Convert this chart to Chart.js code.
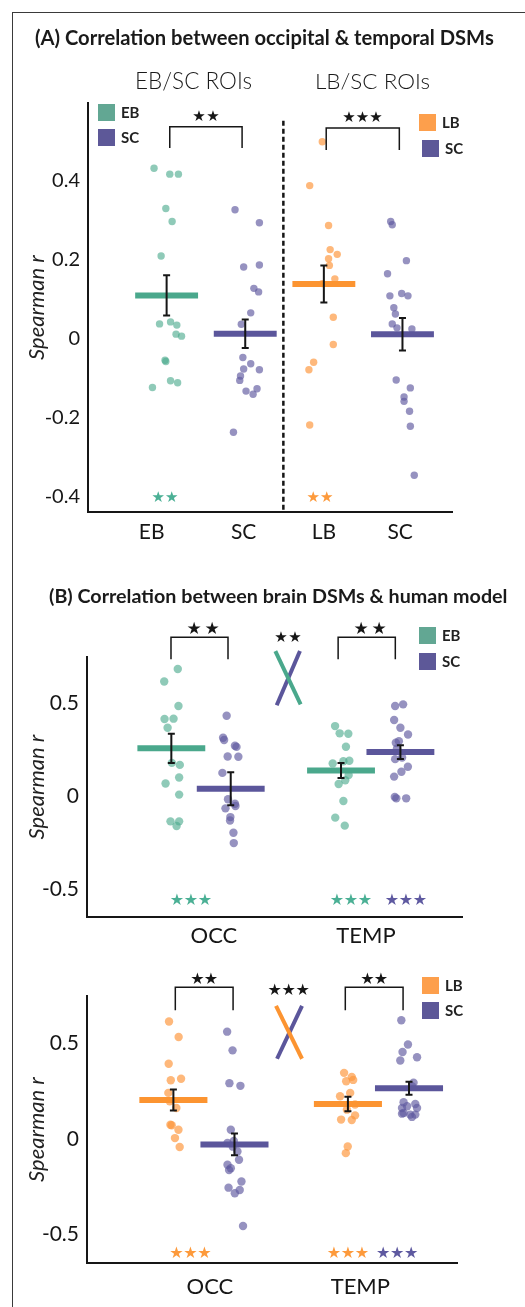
<!DOCTYPE html>
<html>
<head>
<meta charset="utf-8">
<script src="https://cdn.jsdelivr.net/npm/chart.js@4.4.0/dist/chart.umd.min.js"></script>
<style>
  html, body { margin: 0; padding: 0; background: #fff; overflow: hidden; }
  body { width: 525px; height: 1307px; position: relative; }
  #frame { position: absolute; left: 12px; top: 12px; width: 700px; height: 1500px;
           border-left: 1.5px solid #3a3a3a; border-top: 1.5px solid #3a3a3a; }
  canvas { position: absolute; left: 0; }
</style>
</head>
<body>
<div id="frame"></div>
<canvas id="panelA" width="525" height="560" style="top:0px"></canvas>
<canvas id="panelB1" width="525" height="400" style="top:560px"></canvas>
<canvas id="panelB2" width="525" height="347" style="top:960px"></canvas>
<script>
// ---- panel A: occipital vs temporal DSMs ----
const aLabels = ['EB', 'SC', 'LB', 'SC'];
const aLabelX = [0.81, 1.98, 3.0, 3.97];
const aTicksY = [-0.4, -0.2, 0, 0.2, 0.4];
const aEB = [0.43, 0.415, 0.415, 0.328, 0.295, 0.208, 0.036, 0.041, 0.033, 0.01, 0.005, -0.056, -0.059, -0.108, -0.113, -0.125];
const aEBJit = [-0.16, 0.04, 0.15, -0.01, 0.07, -0.07, -0.09, 0.05, 0.13, 0.12, 0.19, -0.02, -0.01, 0.05, 0.14, -0.18];
const aSC1 = [0.325, 0.292, 0.18, 0.185, 0.126, 0.117, 0.064, 0.035, -0.049, -0.065, -0.078, -0.08, -0.096, -0.107, -0.134, -0.128, -0.142, -0.238];
const aSC1Jit = [-0.13, 0.18, -0.02, 0.18, 0.11, 0.17, 0.07, -0.05, -0.03, 0.07, -0.02, 0.18, -0.06, -0.07, 0.01, 0.15, 0.10, -0.15];
const aLB = [0.497, 0.386, 0.285, 0.224, 0.212, 0.201, 0.184, 0.15, 0.138, 0.053, -0.016, -0.061, -0.08, -0.22];
const aLBJit = [-0.02, -0.18, 0.06, 0.08, 0.17, 0.06, 0.07, 0.14, -0.02, 0.12, 0.12, -0.13, -0.19, -0.18];
const aSC2 = [0.295, 0.287, 0.196, 0.163, 0.107, 0.113, 0.107, 0.077, 0.061, 0.036, 0.026, 0.023, -0.106, -0.126, -0.149, -0.16, -0.185, -0.223, -0.347];
const aSC2Jit = [-0.15, -0.13, 0.05, -0.19, -0.16, -0.01, 0.07, -0.11, -0.09, -0.13, -0.07, 0.12, -0.08, 0.10, 0.02, 0.02, 0.09, 0.10, 0.15];
const aMeans = [0.108, 0.011, 0.137, 0.010];
const aSem = [0.051, 0.036, 0.047, 0.041];

// ---- panel B top: brain DSMs vs human model (EB / SC) ----
const bLabels = ['OCC', 'TEMP'];
const bLabelX = [1.076, 1.972];
const bTicksY = [-0.5, 0, 0.5];
const bEBocc = [0.685, 0.618, 0.486, 0.416, 0.418, 0.369, 0.18, 0.169, 0.101, 0.069, 0.009, -0.135, -0.135, -0.16];
const bEBoccJit = [0.038, -0.042, 0.042, -0.04, 0.013, -0.022, 0.003, 0.05, 0.046, -0.034, 0.046, -0.005, 0.046, 0.031];
const bSCocc = [0.434, 0.315, 0.303, 0.272, 0.266, 0.214, 0.213, 0.126, -0.016, -0.04, -0.052, -0.065, -0.112, -0.13, -0.196, -0.252];
const bSCoccJit = [-0.024, -0.045, -0.039, 0.025, 0.034, -0.018, 0.045, -0.049, -0.016, 0.025, 0.028, -0.031, -0.002, -0.004, 0.016, 0.018];
const bEBtemp = [0.378, 0.339, 0.337, 0.267, 0.177, 0.189, 0.191, 0.114, 0.086, 0.066, -0.025, -0.115, -0.158];
const bEBtempJit = [-0.035, -0.008, 0.043, 0.029, -0.049, 0.014, 0.049, 0.045, 0.025, -0.014, 0.014, -0.034, 0.022];
const bSCtemp = [0.486, 0.495, 0.411, 0.369, 0.333, 0.288, 0.297, 0.258, 0.209, 0.2, 0.159, 0.132, 0.106, -0.004, -0.011, -0.011];
const bSCtempJit = [-0.031, 0.016, -0.037, 0, 0.045, -0.027, -0.009, -0.02, 0.01, -0.031, 0.044, 0.006, -0.037, -0.033, -0.024, 0.034];
const bMeans = [0.258, 0.041, 0.139, 0.238];
const bSem = [0.079, 0.089, 0.04, 0.037];

// ---- panel B bottom: LB / SC ----
const cLabelX = [1.034, 1.896];
const cLBocc = [0.616, 0.535, 0.395, 0.308, 0.316, 0.242, 0.198, 0.163, 0.075, 0.072, 0.049, 0.005, -0.042];
const cLBoccJit = [-0.025, 0.03, -0.027, -0.015, 0.044, -0.029, -0.021, 0.017, -0.017, -0.01, 0.029, 0.009, 0.036];
const cSCocc = [0.563, 0.465, 0.293, 0.279, 0.049, -0.01, -0.021, -0.04, -0.065, -0.109, -0.135, -0.153, -0.162, -0.223, -0.255, -0.267, -0.284, -0.456];
const cSCoccJit = [-0.042, -0.011, -0.029, 0.034, -0.021, -0.004, -0.04, -0.01, 0.017, 0.026, -0.04, -0.021, -0.031, 0.04, -0.034, 0.03, 0.002, 0.049];
const cLBtemp = [0.347, 0.326, 0.31, 0.303, 0.242, 0.224, 0.181, 0.154, 0.124, 0.102, 0.10, -0.039, -0.074];
const cLBtempJit = [-0.022, 0.022, 0.03, -0.01, 0.013, -0.045, 0.041, -0.006, 0.041, -0.039, 0.022, -0.001, -0.012];
const cSCtemp = [0.623, 0.496, 0.456, 0.429, 0.412, 0.295, 0.277, 0.193, 0.184, 0.172, 0.163, 0.163, 0.137, 0.133, 0.128, 0.128, 0.116];
const cSCtempJit = [-0.044, -0.006, -0.037, 0.046, -0.05, 0.026, 0.017, -0.031, 0.036, -0.011, -0.04, 0.046, -0.031, -0.04, 0.007, 0.036, 0.017];
const cMeans = [0.205, -0.028, 0.184, 0.266];
const cSem = [0.055, 0.057, 0.038, 0.034];

// colours
const TEAL = '#4aa88c', PURPLE = '#5b569b', ORANGE = '#fc9431';
const TEAL_PT = 'rgba(74,170,140,0.62)', PURPLE_PT = 'rgba(95,90,160,0.66)', ORANGE_PT = 'rgba(253,150,60,0.68)';
const TEAL_KEY = '#62a793', PURPLE_KEY = '#5d5898', ORANGE_KEY = '#fd9f4c';
const TEAL_STAR = '#4bb095', PURPLE_STAR = '#5e59a0', ORANGE_STAR = '#fd9a3c';
const INK = '#161616';
const OFF = 0.175; // half distance between the two groups in panel B

function pts(vals, jit, gx) {
  return vals.map((v, i) => ({ x: gx + jit[i], y: v }));
}
function ds(vals, jit, gx, color, r) {
  return { data: pts(vals, jit, gx), backgroundColor: color, pointRadius: r, pointBorderWidth: 0, pointHoverRadius: r };
}

function fitSize(ctx, text, font, width) {
  ctx.font = font.replace('{s}', '100');
  return 100 * width / ctx.measureText(text).width;
}

function drawStars(ctx, s, px, py) {
  ctx.fillStyle = s.color || INK;
  ctx.font = s.size + 'px "DejaVu Sans"';
  ctx.textAlign = 'center';
  ctx.textBaseline = 'middle';
  const cx = px(s.x), cy = py(s.y);
  for (let i = 0; i < s.n; i++) {
    ctx.fillText('\u2605', cx + (i - (s.n - 1) / 2) * s.gap, cy);
  }
}

// draws means, error bars, brackets, stars, keys and titles
function figurePlugin(spec) {
  return {
    id: 'figure',
    afterDatasetsDraw(chart) {
      const ctx = chart.ctx;
      const xs = chart.scales.x, ys = chart.scales.y;
      const px = v => xs.getPixelForValue(v), py = v => ys.getPixelForValue(v);
      ctx.save();

      if (spec.dashed) {
        ctx.strokeStyle = INK; ctx.lineWidth = 2.5; ctx.setLineDash([5, 3]);
        ctx.beginPath();
        ctx.moveTo(px(spec.dashed.x), py(spec.dashed.yTop));
        ctx.lineTo(px(spec.dashed.x), chart.chartArea.bottom);
        ctx.stroke();
        ctx.setLineDash([]);
      }

      spec.means.forEach(m => {
        ctx.strokeStyle = m.color; ctx.lineWidth = 6; ctx.lineCap = 'butt';
        ctx.beginPath();
        ctx.moveTo(px(m.x - spec.halfBar), py(m.mean));
        ctx.lineTo(px(m.x + spec.halfBar), py(m.mean));
        ctx.stroke();
        const cx = px(m.x), y1 = py(m.mean + m.sem), y2 = py(m.mean - m.sem);
        ctx.strokeStyle = INK; ctx.lineWidth = 2;
        ctx.beginPath();
        ctx.moveTo(cx, y1); ctx.lineTo(cx, y2);
        ctx.moveTo(cx - 3.5, y1); ctx.lineTo(cx + 3.5, y1);
        ctx.moveTo(cx - 3.5, y2); ctx.lineTo(cx + 3.5, y2);
        ctx.stroke();
      });

      ctx.strokeStyle = INK; ctx.lineWidth = 1.5;
      spec.brackets.forEach(b => {
        ctx.beginPath();
        ctx.moveTo(px(b.x1), py(b.yLeg));
        ctx.lineTo(px(b.x1), py(b.yTop));
        ctx.lineTo(px(b.x2), py(b.yTop));
        ctx.lineTo(px(b.x2), py(b.yLeg));
        ctx.stroke();
      });

      (spec.crosses || []).forEach(c => {
        ctx.strokeStyle = c.color; ctx.lineWidth = 4;
        ctx.beginPath();
        ctx.moveTo(px(c.x1), py(c.y1));
        ctx.lineTo(px(c.x2), py(c.y2));
        ctx.stroke();
      });

      spec.stars.forEach(s => drawStars(ctx, s, px, py));

      spec.keys.forEach(k => {
        ctx.fillStyle = k.color;
        ctx.fillRect(k.x, k.y, 17, 17);
        ctx.fillStyle = '#222';
        ctx.font = 'bold 15px Lato';
        ctx.textAlign = 'left'; ctx.textBaseline = 'middle';
        ctx.fillText(k.label, k.x + 23, k.y + 9);
      });

      spec.texts.forEach(t => {
        const size = fitSize(ctx, t.text, t.font, t.width);
        ctx.font = t.font.replace('{s}', size.toFixed(2));
        ctx.fillStyle = '#1a1a1a';
        ctx.textAlign = t.align; ctx.textBaseline = 'middle';
        ctx.fillText(t.text, t.x, t.y);
      });
      ctx.restore();
    }
  };
}

function makeChart(id, spec) {
  return new Chart(document.getElementById(id), {
    type: 'scatter',
    data: { datasets: spec.datasets },
    options: {
      responsive: false,
      animation: false,
      devicePixelRatio: 1,
      layout: { padding: spec.padding },
      plugins: { legend: { display: false }, tooltip: { enabled: false } },
      scales: {
        x: {
          type: 'linear', min: spec.xMin, max: spec.xMax,
          grid: { display: false, drawTicks: false },
          border: { display: true, color: INK, width: 2 },
          ticks: {
            autoSkip: false, maxRotation: 0, padding: spec.xPad, color: INK,
            font: { family: 'Lato', size: spec.xTickSize },
            callback: (v, i) => spec.xLabels[i]
          },
          afterBuildTicks: s => { s.ticks = spec.xTicks.map(v => ({ value: v })); },
          afterFit: s => { s.height = spec.xHeight; }
        },
        y: {
          type: 'linear', min: spec.yMin, max: spec.yMax,
          grid: { display: false, drawTicks: false },
          border: { display: true, color: INK, width: 2 },
          ticks: {
            autoSkip: false, padding: 8, color: INK,
            font: { family: 'Lato', size: spec.tickSize },
            callback: v => (v === 0 ? '0' : String(v))
          },
          afterBuildTicks: s => { s.ticks = spec.yTicks.map(v => ({ value: v })); },
          afterFit: s => { s.width = spec.yWidth; },
          title: {
            display: true, text: 'Spearman r', color: '#222',
            font: { family: 'Lato', style: 'italic', size: 22 },
            padding: { top: 24, bottom: 0 }
          }
        }
      }
    },
    plugins: [figurePlugin(spec)]
  });
}

// panel A
makeChart('panelA', {
  datasets: [
    ds(aEB, aEBJit, 1, TEAL_PT, 3.7),
    ds(aSC1, aSC1Jit, 2, PURPLE_PT, 3.7),
    ds(aLB, aLBJit, 3, ORANGE_PT, 3.7),
    ds(aSC2, aSC2Jit, 4, PURPLE_PT, 3.7)
  ],
  padding: { left: 0, top: 103, right: 73, bottom: 0 },
  xMin: 0, xMax: 4.63, yMin: -0.44, yMax: 0.595,
  xTicks: aLabelX, xLabels: aLabels, yTicks: aTicksY,
  xHeight: 48, yWidth: 88, xPad: 8, tickSize: 20, xTickSize: 21,
  halfBar: 0.4,
  means: [
    { x: 1, mean: aMeans[0], sem: aSem[0], color: TEAL },
    { x: 2, mean: aMeans[1], sem: aSem[1], color: PURPLE },
    { x: 3, mean: aMeans[2], sem: aSem[2], color: ORANGE },
    { x: 4, mean: aMeans[3], sem: aSem[3], color: PURPLE }
  ],
  dashed: { x: 2.485, yTop: 0.55 },
  brackets: [
    { x1: 1.04, x2: 1.96, yTop: 0.535, yLeg: 0.481 },
    { x1: 3.03, x2: 3.96, yTop: 0.532, yLeg: 0.476 }
  ],
  stars: [
    { x: 1.5, y: 0.56, n: 2, size: 15, gap: 14 },
    { x: 3.49, y: 0.558, n: 3, size: 15, gap: 13.5 },
    { x: 0.98, y: -0.406, n: 2, size: 15, gap: 13.5, color: TEAL_STAR },
    { x: 2.95, y: -0.405, n: 2, size: 15, gap: 13.5, color: ORANGE_STAR }
  ],
  keys: [
    { x: 98, y: 104, color: TEAL_KEY, label: 'EB' },
    { x: 98, y: 129, color: PURPLE_KEY, label: 'SC' },
    { x: 419, y: 114, color: ORANGE_KEY, label: 'LB' },
    { x: 422, y: 140, color: PURPLE_KEY, label: 'SC' }
  ],
  texts: [
    { text: '(A) Correlation between occipital & temporal DSMs', x: 35, y: 38, align: 'left', width: 459, font: 'bold {s}px Lato' },
    { text: 'EB/SC ROIs', x: 193.5, y: 82, align: 'center', width: 117, font: '300 {s}px Lato' },
    { text: 'LB/SC ROIs', x: 372.5, y: 82, align: 'center', width: 115, font: '300 {s}px Lato' }
  ]
});

// panel B, EB vs SC
makeChart('panelB1', {
  datasets: [
    ds(bEBocc, bEBoccJit, 1 - OFF, TEAL_PT, 4.2),
    ds(bSCocc, bSCoccJit, 1 + OFF, PURPLE_PT, 4.2),
    ds(bEBtemp, bEBtempJit, 2 - OFF, TEAL_PT, 4.2),
    ds(bSCtemp, bSCtempJit, 2 + OFF, PURPLE_PT, 4.2)
  ],
  padding: { left: 0, top: 97, right: 63, bottom: 0 },
  xMin: 0.328, xMax: 2.538, yMin: -0.65, yMax: 0.75,
  xTicks: bLabelX, xLabels: bLabels, yTicks: bTicksY,
  xHeight: 43, yWidth: 87, xPad: 6, tickSize: 21, xTickSize: 22,
  halfBar: 0.2,
  means: [
    { x: 1 - OFF, mean: bMeans[0], sem: bSem[0], color: TEAL },
    { x: 1 + OFF, mean: bMeans[1], sem: bSem[1], color: PURPLE },
    { x: 2 - OFF, mean: bMeans[2], sem: bSem[2], color: TEAL },
    { x: 2 + OFF, mean: bMeans[3], sem: bSem[3], color: PURPLE }
  ],
  brackets: [
    { x1: 0.823, x2: 1.159, yTop: 0.856, yLeg: 0.738 },
    { x1: 1.808, x2: 2.145, yTop: 0.856, yLeg: 0.738 }
  ],
  crosses: [
    { x1: 1.583, y1: 0.782, x2: 1.446, y2: 0.49, color: PURPLE },
    { x1: 1.438, y1: 0.782, x2: 1.587, y2: 0.495, color: TEAL }
  ],
  stars: [
    { x: 1.012, y: 0.899, n: 2, size: 17, gap: 18 },
    { x: 1.996, y: 0.899, n: 2, size: 17, gap: 18 },
    { x: 1.512, y: 0.851, n: 2, size: 15, gap: 14 },
    { x: 0.941, y: -0.565, n: 3, size: 16, gap: 14, color: TEAL_STAR },
    { x: 1.884, y: -0.565, n: 3, size: 16, gap: 14, color: TEAL_STAR },
    { x: 2.208, y: -0.565, n: 3, size: 16, gap: 14, color: PURPLE_STAR }
  ],
  keys: [
    { x: 419, y: 67, color: TEAL_KEY, label: 'EB' },
    { x: 419, y: 93, color: PURPLE_KEY, label: 'SC' }
  ],
  texts: [
    { text: '(B) Correlation between brain DSMs & human model', x: 49, y: 37, align: 'left', width: 459, font: 'bold {s}px Lato' }
  ]
});

// panel B, LB vs SC
makeChart('panelB2', {
  datasets: [
    ds(cLBocc, cLBoccJit, 1 - OFF, ORANGE_PT, 4.2),
    ds(cSCocc, cSCoccJit, 1 + OFF, PURPLE_PT, 4.2),
    ds(cLBtemp, cLBtempJit, 2 - OFF, ORANGE_PT, 4.2),
    ds(cSCtemp, cSCtempJit, 2 + OFF, PURPLE_PT, 4.2)
  ],
  padding: { left: 0, top: 36, right: 68, bottom: 0 },
  xMin: 0.33, xMax: 2.45, yMin: -0.65, yMax: 0.75,
  xTicks: cLabelX, xLabels: bLabels, yTicks: bTicksY,
  xHeight: 44, yWidth: 87, xPad: 11, tickSize: 21, xTickSize: 22,
  halfBar: 0.195,
  means: [
    { x: 1 - OFF, mean: cMeans[0], sem: cSem[0], color: ORANGE },
    { x: 1 + OFF, mean: cMeans[1], sem: cSem[1], color: PURPLE },
    { x: 2 - OFF, mean: cMeans[2], sem: cSem[2], color: ORANGE },
    { x: 2 + OFF, mean: cMeans[3], sem: cSem[3], color: PURPLE }
  ],
  brackets: [
    { x1: 0.836, x2: 1.167, yTop: 0.796, yLeg: 0.675 },
    { x1: 1.81, x2: 2.141, yTop: 0.796, yLeg: 0.675 }
  ],
  crosses: [
    { x1: 1.562, y1: 0.698, x2: 1.419, y2: 0.421, color: PURPLE },
    { x1: 1.413, y1: 0.698, x2: 1.562, y2: 0.421, color: ORANGE }
  ],
  stars: [
    { x: 1.002, y: 0.835, n: 2, size: 16, gap: 13.5 },
    { x: 1.976, y: 0.835, n: 2, size: 16, gap: 13.5 },
    { x: 1.485, y: 0.777, n: 3, size: 16, gap: 14 },
    { x: 0.922, y: -0.6, n: 3, size: 16, gap: 14, color: ORANGE_STAR },
    { x: 1.825, y: -0.6, n: 3, size: 16, gap: 14, color: ORANGE_STAR },
    { x: 2.107, y: -0.6, n: 3, size: 16, gap: 14, color: PURPLE_STAR }
  ],
  keys: [
    { x: 422, y: 17, color: ORANGE_KEY, label: 'LB' },
    { x: 422, y: 42, color: PURPLE_KEY, label: 'SC' }
  ],
  texts: []
});
</script>
</body>
</html>
